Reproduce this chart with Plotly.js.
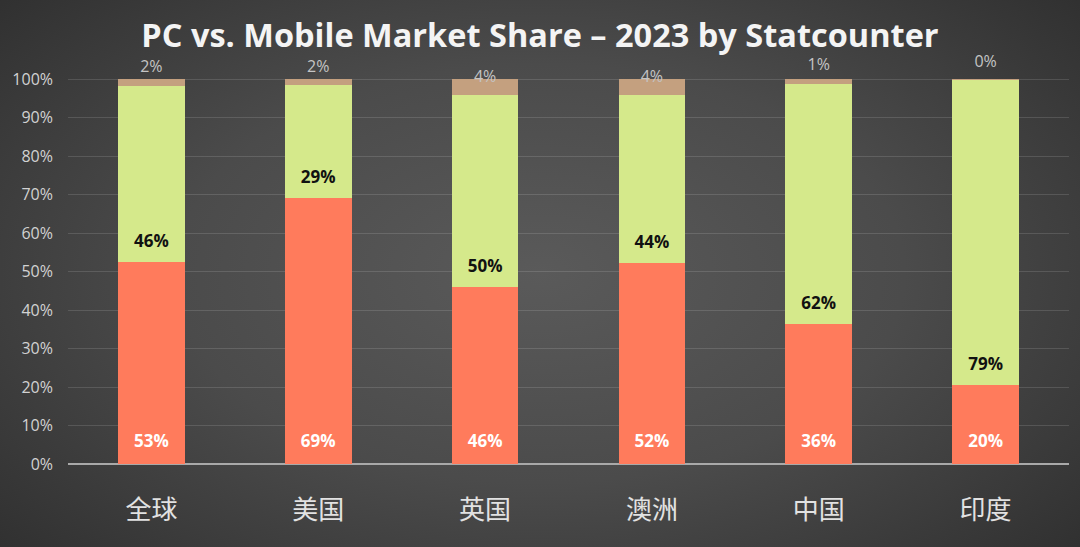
<!DOCTYPE html>
<html>
<head>
<meta charset="utf-8">
<script src="https://cdn.plot.ly/plotly-3.0.1.min.js"></script>
<style>
  html, body { margin: 0; padding: 0; width: 1080px; height: 547px; overflow: hidden; }
  body { background: radial-gradient(ellipse 75% 85% at 50% 50%, #5a5a5a 0%, #4b4b4b 45%, #2a2a2a 100%); }
  #chart { width: 1080px; height: 547px; }
</style>
</head>
<body>
<div id="chart"></div>
<script>
const categories = ["全球", "美国", "英国", "澳洲", "中国", "印度"];
const pcShare     = [52.5, 69.1, 46.0, 52.2, 36.4, 20.4];
const mobileShare = [45.7, 29.3, 49.8, 43.6, 62.3, 79.3];
const tabletShare = [1.8, 1.6, 4.2, 4.2, 1.3, 0.3];
const yTickVals = [0, 10, 20, 30, 40, 50, 60, 70, 80, 90, 100];
const yTickText = ["0%", "10%", "20%", "30%", "40%", "50%", "60%", "70%", "80%", "90%", "100%"];

const fmt = v => Math.round(v) + "%";
const pcBase = categories.map(() => 0);
const mobileBase = pcShare.slice();
const tabletBase = pcShare.map((v, i) => v + mobileShare[i]);

const barCommon = { type: "bar", x: categories, hoverinfo: "skip", showlegend: false };
const traces = [
  Object.assign({}, barCommon, { name: "PC", y: pcShare, marker: { color: "#ff7b5c" } }),
  Object.assign({}, barCommon, { name: "Mobile", y: mobileShare, marker: { color: "#d5e98b" } }),
  Object.assign({}, barCommon, { name: "Tablet", y: tabletShare, marker: { color: "#c4a07f" } }),
  { type: "scatter", mode: "text", x: categories, y: pcBase.map(b => b + 5.5),
    text: pcShare.map(fmt), textfont: { family: "Open Sans", size: 17, color: "#ffffff", weight: "bold" },
    cliponaxis: false, hoverinfo: "skip", showlegend: false },
  { type: "scatter", mode: "text", x: categories, y: mobileBase.map(b => b + 5.0),
    text: mobileShare.map(fmt), textfont: { family: "Open Sans", size: 17, color: "#111111", weight: "bold" },
    cliponaxis: false, hoverinfo: "skip", showlegend: false },
  { type: "scatter", mode: "text", x: categories, y: tabletBase.map(b => b + 4.6),
    text: tabletShare.map(fmt), textfont: { family: "Open Sans", size: 16, color: "#c4c4c4" },
    cliponaxis: false, hoverinfo: "skip", showlegend: false }
];

const layout = {
  width: 1080, height: 547,
  margin: { l: 68, r: 11, t: 56, b: 83 },
  paper_bgcolor: "rgba(0,0,0,0)",
  plot_bgcolor: "rgba(0,0,0,0)",
  barmode: "stack",
  bargap: 0.6,
  title: {
    text: "PC vs. Mobile Market Share – 2023 by Statcounter",
    font: { family: "Open Sans", size: 32.5, color: "#f4f4f4", weight: "bold" },
    x: 0.5, xanchor: "center", xref: "container",
    y: 0.934, yanchor: "middle", yref: "container"
  },
  xaxis: {
    type: "category",
    tickfont: { family: "Noto Sans CJK SC", size: 26, color: "#e2e2e2" },
    ticklabelstandoff: 28,
    showgrid: false,
    showline: false,
    zeroline: false,
    fixedrange: true
  },
  yaxis: {
    range: [0, 106],
    tickvals: yTickVals,
    ticktext: yTickText,
    tickfont: { family: "Open Sans", size: 16, color: "#d2d2d2" },
    ticklabelstandoff: 14,
    showgrid: true,
    gridcolor: "rgba(255,255,255,0.13)",
    gridwidth: 1,
    zeroline: true,
    zerolinecolor: "#a9a9a9",
    zerolinewidth: 2,
    showline: false,
    fixedrange: true
  },
  font: { family: "Open Sans", color: "#dddddd" }
};

Plotly.newPlot("chart", traces, layout, { displayModeBar: false, staticPlot: true });
</script>
</body>
</html>
